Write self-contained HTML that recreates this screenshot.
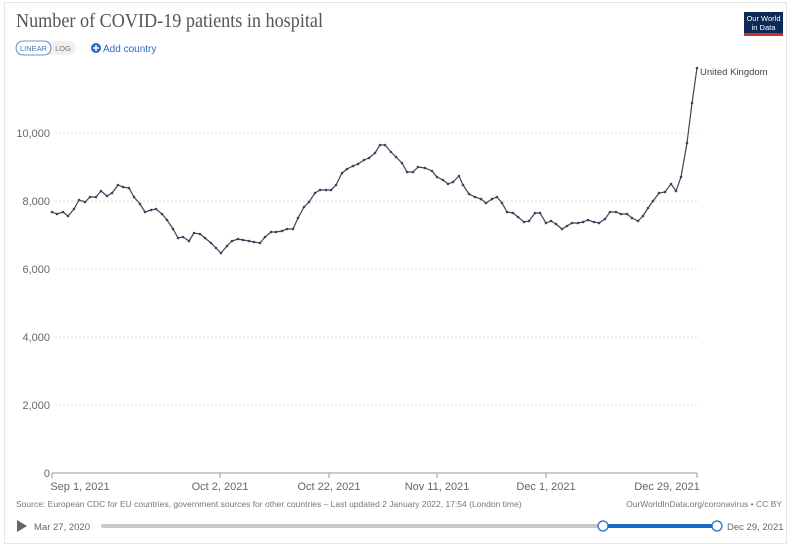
<!DOCTYPE html>
<html><head><style>
body{margin:0;background:#fff;width:800px;height:539px;overflow:hidden;font-family:"Liberation Sans",sans-serif;}
.card{position:absolute;left:4px;top:2px;width:781px;height:540px;border:1px solid #e6e6e6;}
</style></head><body>
<div class="card"></div>
<svg width="800" height="539" style="position:absolute;left:0;top:0" font-family="Liberation Sans, sans-serif">
<text x="16" y="27" font-family="Liberation Serif, serif" font-size="20" fill="#555" textLength="307" lengthAdjust="spacingAndGlyphs">Number of COVID-19 patients in hospital</text>
<rect x="16" y="41" width="60" height="14" rx="7" fill="#f0f0f0"/>
<rect x="16" y="41" width="35" height="14" rx="7" fill="#fff" stroke="#3878b4" stroke-width="0.8"/>
<text x="33.5" y="51" font-size="7.5" fill="#3878b4" text-anchor="middle">LINEAR</text>
<text x="63" y="51" font-size="7.5" fill="#777" text-anchor="middle">LOG</text>
<circle cx="96" cy="48" r="5" fill="#2a6ac1"/>
<path d="M93 48h6M96 45v6" stroke="#fff" stroke-width="1.5"/>
<text x="103" y="52" font-size="10" fill="#2a6ac1">Add country</text>
<rect x="744" y="12" width="39" height="24" fill="#0b2a55"/>
<rect x="744" y="33" width="39" height="3" fill="#c8302c"/>
<text x="763.5" y="21" font-size="7.5" fill="#fff" text-anchor="middle">Our World</text>
<text x="763.5" y="30" font-size="7.5" fill="#fff" text-anchor="middle">in Data</text>
<g stroke="#ddd" stroke-dasharray="2,2" stroke-width="1">
<line x1="55" y1="133" x2="697" y2="133"/><line x1="55" y1="201" x2="697" y2="201"/>
<line x1="55" y1="269" x2="697" y2="269"/><line x1="55" y1="337" x2="697" y2="337"/>
<line x1="55" y1="405" x2="697" y2="405"/></g>
<line x1="52" y1="473" x2="697" y2="473" stroke="#999"/>
<g font-size="11" fill="#666" text-anchor="end">
<text x="50" y="137">10,000</text><text x="50" y="205">8,000</text><text x="50" y="273">6,000</text>
<text x="50" y="341">4,000</text><text x="50" y="409">2,000</text><text x="50" y="477">0</text></g>
<g stroke="#999"><line x1="52" y1="473" x2="52" y2="478"/><line x1="220" y1="473" x2="220" y2="478"/><line x1="329" y1="473" x2="329" y2="478"/><line x1="437" y1="473" x2="437" y2="478"/><line x1="546" y1="473" x2="546" y2="478"/><line x1="697" y1="473" x2="697" y2="478"/></g>
<g font-size="11" fill="#666" text-anchor="middle">
<text x="80" y="490">Sep 1, 2021</text><text x="220" y="490">Oct 2, 2021</text><text x="329" y="490">Oct 22, 2021</text>
<text x="437" y="490">Nov 11, 2021</text><text x="546" y="490">Dec 1, 2021</text><text x="667" y="490">Dec 29, 2021</text></g>
<text x="16" y="507" font-size="8.5" fill="#777">Source: European CDC for EU countries, government sources for other countries – Last updated 2 January 2022, 17:54 (London time)</text>
<text x="782" y="507" font-size="8.5" fill="#777" text-anchor="end">OurWorldInData.org/coronavirus • CC BY</text>
<path d="M17 520l10 6-10 6z" fill="#666"/>
<text x="34" y="530" font-size="9.5" fill="#666">Mar 27, 2020</text>
<rect x="101" y="524" width="500" height="4" rx="2" fill="#c8c8c8"/>
<rect x="603" y="524" width="114" height="4" fill="#1a6ac7"/>
<circle cx="603" cy="526" r="5" fill="#fff" stroke="#1a6ac7" stroke-width="1.2"/>
<circle cx="717" cy="526" r="5" fill="#fff" stroke="#1a6ac7" stroke-width="1.2"/>
<text x="727" y="530" font-size="9.5" fill="#666">Dec 29, 2021</text>
<text x="700" y="75" font-size="9.5" fill="#444">United Kingdom</text>
<g id="series"></g>
</svg>
<script>
var p=[[52,212],[57,214],[63,212],[68,216],[74,209],[79,200],[85,202],[90,197],[96,197],[101,191],[107,196],[112,193],[118,185],[123,187],[129,188],[134,197],[140,204],[145,212],[151,210],[156,209],[162,214],[167,220],[173,229],[178,238],[183,237],[189,241],[194,233],[200,234],[205,238],[211,243],[216,248],[221,253],[227,246],[232,241],[238,239],[243,240],[249,241],[254,242],[260,243],[265,237],[271,232],[276,232],[282,231],[287,229],[293,229],[298,218],[304,207],[309,202],[315,193],[320,190],[326,190],[331,190],[336,185],[342,173],[347,169],[353,166],[358,164],[364,160],[369,158],[375,153],[380,145],[385,145],[391,152],[396,157],[402,163],[407,172],[413,172],[418,167],[425,168],[432,171],[437,177],[443,180],[448,184],[453,182],[459,176],[463,185],[469,194],[475,197],[481,199],[486,203],[492,199],[497,197],[502,203],[507,212],[513,213],[518,217],[524,222],[529,221],[535,213],[540,213],[546,223],[551,221],[556,224],[562,229],[567,226],[572,223],[578,223],[583,222],[588,220],[594,222],[599,223],[605,219],[610,212],[616,212],[621,214],[627,214],[632,218],[638,221],[643,216],[648,208],[653,201],[659,193],[665,192],[671,184],[676,191],[681,177],[687,143],[692,103],[697,68]];
var s='<polyline fill="none" stroke="#3c4557" stroke-width="1.2" points="'+p.map(function(a){return a.join(',')}).join(' ')+'"/>';
p.forEach(function(a){s+='<circle cx="'+a[0]+'" cy="'+a[1]+'" r="1.3" fill="#3c4557"/>';});
document.getElementById('series').innerHTML=s;
</script>
</body></html>
